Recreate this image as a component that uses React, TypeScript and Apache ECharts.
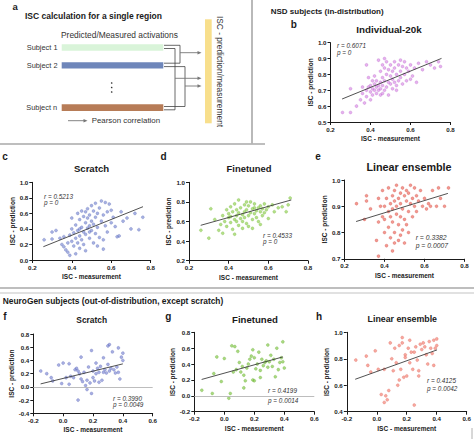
import React, { useEffect, useRef } from "react";
import * as echarts from "echarts";

const FONT = "'Liberation Sans', Arial, Helvetica, sans-serif";

// ---------- data ----------
const individual20kPoints: number[][] = [
  [0.26,0.56],[0.30,0.56],[0.30,0.71],[0.33,0.60],[0.35,0.64],[0.36,0.68],[0.37,0.62],[0.36,0.72],[0.38,0.66],[0.38,0.70],
  [0.38,0.86],[0.39,0.72],[0.39,0.78],[0.40,0.64],[0.40,0.69],[0.40,0.73],[0.41,0.71],[0.41,0.67],[0.41,0.76],[0.42,0.74],
  [0.42,0.70],[0.42,0.79],[0.43,0.72],[0.43,0.68],[0.43,0.76],[0.44,0.73],[0.44,0.70],[0.44,0.89],[0.45,0.67],[0.45,0.71],
  [0.45,0.75],[0.45,0.82],[0.46,0.73],[0.46,0.68],[0.46,0.78],[0.46,0.86],[0.47,0.70],[0.47,0.76],[0.47,0.84],[0.47,0.90],
  [0.48,0.72],[0.48,0.80],[0.48,0.88],[0.49,0.67],[0.49,0.75],[0.49,0.83],[0.50,0.74],[0.50,0.79],[0.50,0.86],[0.51,0.71],
  [0.51,0.82],[0.51,0.77],[0.52,0.75],[0.52,0.84],[0.52,0.88],[0.53,0.70],[0.53,0.73],[0.53,0.80],[0.54,0.76],[0.54,0.86],
  [0.55,0.82],[0.55,0.78],[0.55,0.89],[0.56,0.74],[0.56,0.85],[0.57,0.80],[0.57,0.88],[0.58,0.76],[0.58,0.84],[0.59,0.82],
  [0.60,0.86],[0.60,0.77],[0.61,0.79],[0.62,0.84],[0.63,0.75],[0.64,0.87],[0.66,0.83],[0.68,0.88],[0.70,0.86],[0.72,0.84],
  [0.74,0.88],[0.75,0.85]
];

const nsdScratchPoints: number[][] = [
  [0.26,0.26],[0.30,0.27],[0.30,0.36],[0.32,0.38],[0.34,0.28],[0.35,0.20],[0.36,0.17],[0.36,0.30],[0.37,0.13],[0.38,0.22],
  [0.38,0.10],[0.39,0.06],[0.39,0.32],[0.40,0.54],[0.40,0.24],[0.40,0.40],[0.41,0.18],[0.41,0.35],[0.42,0.08],[0.42,0.28],
  [0.42,0.45],[0.43,0.22],[0.43,0.38],[0.43,0.60],[0.44,0.31],[0.44,0.15],[0.44,0.52],[0.44,0.40],[0.45,0.63],[0.45,0.42],
  [0.45,0.26],[0.46,0.36],[0.46,0.56],[0.46,0.20],[0.47,0.48],[0.47,0.62],[0.47,0.33],[0.47,0.12],[0.48,0.41],[0.48,0.54],
  [0.48,0.66],[0.49,0.28],[0.49,0.44],[0.49,0.58],[0.49,0.36],[0.50,0.70],[0.50,0.38],[0.50,0.50],[0.51,0.63],[0.51,0.22],
  [0.51,0.46],[0.52,0.73],[0.52,0.55],[0.52,0.34],[0.53,0.60],[0.53,0.42],[0.53,0.18],[0.54,0.67],[0.54,0.29],[0.55,0.50],
  [0.55,0.76],[0.56,0.26],[0.56,0.58],[0.56,0.14],[0.57,0.44],[0.57,0.74],[0.58,0.62],[0.58,0.36],[0.59,0.72],[0.60,0.48],
  [0.60,0.64],[0.61,0.55],[0.62,0.43],[0.63,0.30],[0.64,0.31],[0.65,0.62],[0.66,0.50],[0.68,0.54],[0.70,0.40],[0.72,0.60],
  [0.74,0.39],[0.76,0.55]
];

const nsdFinetunedPoints: number[][] = [
  [0.26,0.51],[0.30,0.43],[0.31,0.73],[0.33,0.62],[0.35,0.51],[0.36,0.57],[0.37,0.48],[0.37,0.66],[0.38,0.60],[0.39,0.72],
  [0.39,0.55],[0.40,0.64],[0.40,0.68],[0.41,0.59],[0.41,0.75],[0.41,0.65],[0.42,0.52],[0.42,0.70],[0.43,0.62],[0.43,0.78],
  [0.43,0.47],[0.44,0.66],[0.44,0.72],[0.44,0.60],[0.45,0.56],[0.45,0.69],[0.45,0.82],[0.46,0.63],[0.46,0.74],[0.47,0.60],
  [0.47,0.67],[0.47,0.53],[0.48,0.70],[0.48,0.64],[0.48,0.77],[0.49,0.58],[0.49,0.72],[0.49,0.80],[0.50,0.66],[0.50,0.76],
  [0.50,0.55],[0.51,0.69],[0.51,0.80],[0.52,0.62],[0.52,0.73],[0.52,0.53],[0.53,0.68],[0.53,0.78],[0.53,0.74],[0.54,0.71],
  [0.54,0.64],[0.55,0.74],[0.55,0.60],[0.56,0.76],[0.56,0.70],[0.56,0.57],[0.57,0.73],[0.57,0.66],[0.58,0.78],[0.58,0.69],
  [0.59,0.72],[0.60,0.75],[0.60,0.63],[0.62,0.77],[0.63,0.70],[0.65,0.74],[0.67,0.75],[0.69,0.70],[0.70,0.77],[0.71,0.84]
];

const nsdEnsemblePoints: number[][] = [
  [0.26,0.91],[0.30,0.85],[0.31,0.94],[0.31,0.92],[0.33,0.89],[0.36,0.77],[0.37,0.93],[0.37,0.71],[0.37,0.84],[0.38,0.90],
  [0.39,0.86],[0.39,0.96],[0.40,0.90],[0.40,0.80],[0.40,0.85],[0.41,0.75],[0.41,0.93],[0.42,0.88],[0.42,0.97],[0.42,0.82],
  [0.43,0.91],[0.43,0.86],[0.43,0.78],[0.44,0.94],[0.44,0.89],[0.44,0.84],[0.44,0.73],[0.45,0.96],[0.45,0.92],[0.45,0.80],
  [0.45,0.76],[0.46,0.90],[0.46,0.87],[0.46,0.98],[0.47,0.93],[0.47,0.83],[0.47,0.77],[0.48,0.95],[0.48,0.91],[0.48,0.86],
  [0.48,0.79],[0.49,0.97],[0.49,0.89],[0.49,0.81],[0.50,0.94],[0.50,0.85],[0.50,0.76],[0.51,0.92],[0.51,0.96],[0.51,0.83],
  [0.52,0.88],[0.52,0.95],[0.52,0.80],[0.53,0.91],[0.53,0.98],[0.54,0.86],[0.54,0.93],[0.55,0.97],[0.55,0.90],[0.56,0.94],
  [0.56,0.88],[0.57,0.92],[0.58,0.96],[0.59,0.90],[0.60,0.93],[0.61,0.89],[0.62,0.91],[0.63,0.90],[0.64,0.96],[0.66,0.90],
  [0.67,0.97],[0.68,0.93],[0.70,0.90],[0.72,0.97]
];

const ngScratchPoints: number[][] = [
  [-0.15,0.24],[-0.11,0.20],[-0.08,0.14],[-0.07,0.09],[-0.03,0.33],[-0.01,0.05],[0.00,0.36],[0.02,0.14],[0.04,0.35],[0.04,0.04],
  [0.05,0.16],[0.07,0.14],[0.08,0.26],[0.09,0.28],[0.10,-0.20],[0.10,0.24],[0.11,0.20],[0.12,0.45],[0.12,0.12],[0.13,0.08],
  [0.14,0.22],[0.15,0.02],[0.16,-0.04],[0.16,0.10],[0.17,0.30],[0.18,0.06],[0.19,-0.10],[0.19,0.55],[0.20,0.14],[0.20,0.24],
  [0.21,0.09],[0.22,0.36],[0.22,0.20],[0.23,0.28],[0.24,0.07],[0.24,0.22],[0.25,0.31],[0.26,0.10],[0.27,0.44],[0.27,0.22],
  [0.28,0.26],[0.29,0.21],[0.30,0.62],[0.30,0.34],[0.31,0.64],[0.31,0.24],[0.32,0.28],[0.33,0.53],[0.34,0.26],[0.35,0.21],
  [0.36,0.30],[0.37,0.59],[0.37,0.22],[0.38,0.12],[0.39,0.45],[0.40,0.51],[0.40,0.40]
];

const ngFinetunedPoints: number[][] = [
  [-0.15,0.07],[-0.08,0.03],[-0.07,0.28],[-0.05,0.49],[-0.02,0.18],[0.00,0.47],[0.03,-0.03],[0.04,0.03],[0.05,0.63],[0.06,0.30],
  [0.07,0.62],[0.08,0.33],[0.09,0.56],[0.10,0.42],[0.11,0.30],[0.12,0.37],[0.13,0.26],[0.13,0.10],[0.14,0.19],[0.15,0.35],
  [0.16,0.40],[0.17,0.46],[0.18,0.50],[0.19,0.58],[0.19,0.20],[0.20,0.19],[0.20,0.48],[0.21,0.34],[0.22,0.40],[0.23,0.55],
  [0.24,0.32],[0.24,0.23],[0.25,0.46],[0.26,0.38],[0.27,0.42],[0.28,0.44],[0.29,0.64],[0.29,0.36],[0.30,0.43],[0.31,0.51],
  [0.32,0.37],[0.33,0.46],[0.34,0.24],[0.35,0.60],[0.36,0.33],[0.37,0.42],[0.38,0.48],[0.39,0.68],[0.39,0.43],[0.40,0.35]
];

const ngEnsemblePoints: number[][] = [
  [-0.14,0.79],[-0.07,0.82],[-0.06,0.75],[-0.04,0.70],[-0.01,0.86],[0.01,0.72],[0.03,0.53],[0.05,0.72],[0.06,0.52],[0.05,0.47],
  [0.07,0.49],[0.08,0.56],[0.09,0.92],[0.10,0.80],[0.11,0.71],[0.12,0.88],[0.13,0.77],[0.14,0.60],[0.15,0.90],[0.15,0.64],
  [0.16,0.72],[0.17,0.96],[0.17,0.92],[0.18,0.66],[0.19,0.83],[0.19,0.81],[0.20,0.67],[0.21,0.88],[0.22,0.94],[0.22,0.77],
  [0.23,0.85],[0.24,0.72],[0.25,0.45],[0.25,0.85],[0.26,0.89],[0.27,0.79],[0.28,0.71],[0.28,0.67],[0.29,0.91],[0.30,0.87],
  [0.31,0.92],[0.32,0.89],[0.33,0.83],[0.34,0.76],[0.35,0.93],[0.36,0.88],[0.37,0.84],[0.38,0.94],[0.38,0.75],[0.39,0.88],
  [0.40,0.95],[0.40,0.90]
];

// regression lines: [[x0, y0], [x1, y1]]
const fitIndividual20k = [[0.258, 0.645], [0.755, 0.901]];
const fitNsdScratch = [[0.256, 0.171], [0.761, 0.686]];
const fitNsdFinetuned = [[0.259, 0.561], [0.716, 0.820]];
const fitNsdEnsemble = [[0.258, 0.842], [0.717, 0.949]];
const fitNgScratch = [[-0.151, 0.045], [0.400, 0.348]];
const fitNgFinetuned = [[-0.151, 0.206], [0.390, 0.490]];
const fitNgEnsemble = [[-0.144, 0.645], [0.402, 0.867]];

const panelTitles = ["Individual-20k", "Scratch", "Finetuned", "Linear ensemble", "Scratch", "Finetuned", "Linear ensemble"];
const panelLetters = ["b", "c", "d", "e", "f", "g", "h"];
const rTexts = ["r = 0.6071", "r = 0.5213", "r = 0.4533", "r = 0.3382", "r = 0.3990", "r = 0.4199", "r = 0.4125"];
const pTexts = ["p = 0", "p = 0", "p = 0", "p = 0.0007", "p = 0.0049", "p = 0.0014", "p = 0.0042"];
const xMins = [0.2, 0.2, 0.2, 0.2, -0.2, -0.2, -0.2];
const xMaxs = [0.8, 0.8, 0.8, 0.8, 0.6, 0.6, 0.6];
const yMins = [0.5, 0.0, 0.2, 0.7, -0.4, -0.2, 0.4];
const yMaxs = [1.0, 1.0, 1.0, 1.0, 0.8, 0.8, 1.0];
const yIntervals = [0.1, 0.2, 0.2, 0.1, 0.2, 0.2, 0.2];
const zeroLinePanels = [false, false, false, false, true, true, false];

const sectionTitles = ["NSD subjects (in-distribution)", "NeuroGen subjects (out-of-distribution, except scratch)"];
const schematicTitle = "ISC calculation for a single region";
const schematicSubjects = ["Subject 1", "Subject 2", "Subject n"];

const allPoints = [individual20kPoints, nsdScratchPoints, nsdFinetunedPoints, nsdEnsemblePoints, ngScratchPoints, ngFinetunedPoints, ngEnsemblePoints];
const allFits = [fitIndividual20k, fitNsdScratch, fitNsdFinetuned, fitNsdEnsemble, fitNgScratch, fitNgFinetuned, fitNgEnsemble];

// ---------- layout / style ----------
const grids = [
  { left: 330.5, top: 42.7, width: 120, height: 79.3 },
  { left: 32.3, top: 182.3, width: 118.4, height: 77.7 },
  { left: 189, top: 182.3, width: 119, height: 78.4 },
  { left: 344.5, top: 180, width: 120, height: 78.8 },
  { left: 33.3, top: 334, width: 119.4, height: 79.3 },
  { left: 194.3, top: 332.3, width: 120, height: 79.4 },
  { left: 346.8, top: 332.3, width: 120, height: 79.4 },
];
const colors = [
  { fill: "rgba(214,128,226,0.75)", stroke: "rgba(170,80,190,0.8)" },
  { fill: "rgba(110,126,206,0.75)", stroke: "rgba(70,86,170,0.8)" },
  { fill: "rgba(140,206,70,0.8)", stroke: "rgba(100,170,40,0.8)" },
  { fill: "rgba(234,86,74,0.75)", stroke: "rgba(200,50,45,0.8)" },
  { fill: "rgba(110,122,206,0.75)", stroke: "rgba(70,82,170,0.8)" },
  { fill: "rgba(122,196,58,0.8)", stroke: "rgba(85,160,30,0.8)" },
  { fill: "rgba(242,112,96,0.75)", stroke: "rgba(215,75,65,0.8)" },
];
const titlePos = [
  { x: 389, y: 29, size: 9.8 },
  { x: 91.5, y: 168.3, size: 9.6 },
  { x: 249, y: 168.3, size: 9.4 },
  { x: 409, y: 167.3, size: 10.8 },
  { x: 91.7, y: 320, size: 8.4 },
  { x: 255, y: 319, size: 9.6 },
  { x: 402.3, y: 319, size: 8.8 },
];
const letterPos = [
  { x: 293.7, y: 24 }, { x: 5, y: 156 }, { x: 163.5, y: 156 }, { x: 318, y: 156 },
  { x: 5, y: 316.7 }, { x: 168.3, y: 316.7 }, { x: 319, y: 316.7 },
];
const statPos = [
  { x: 337, yr: 45, yp: 52 },
  { x: 44, yr: 196, yp: 202.7 },
  { x: 263, yr: 235, yp: 241.7 },
  { x: 415.7, yr: 237.3, yp: 245.5 },
  { x: 113, yr: 398.3, yp: 404.5 },
  { x: 268, yr: 390.7, yp: 400.5 },
  { x: 427, yr: 380.3, yp: 388 },
];

const fmt = (v: number) => (Math.abs(v) < 1e-9 ? "0.0" : v.toFixed(1));

function txt(text: string, x: number, y: number, size: number, opts: any = {}) {
  return {
    type: "text",
    x,
    y,
    rotation: opts.rotation || 0,
    silent: true,
    style: {
      text,
      fill: opts.fill || "#1a1a1a",
      fontSize: size,
      fontWeight: opts.bold ? "bold" : "normal",
      fontStyle: opts.italic ? "italic" : "normal",
      fontFamily: FONT,
      align: opts.align || "left",
      verticalAlign: "middle",
    },
  };
}

function line(points: number[][], stroke: string, w: number) {
  return { type: "polyline", silent: true, shape: { points }, style: { stroke, lineWidth: w, fill: null } };
}

function arrowHead(x: number, y: number, fill: string) {
  return { type: "polygon", silent: true, shape: { points: [[x, y], [x - 4, y - 1.8], [x - 4, y + 1.8]] }, style: { fill } };
}

function buildOption() {
  const xAxes: any[] = [];
  const yAxes: any[] = [];
  const series: any[] = [];
  const axisLabelStyle = { fontSize: 6.2, fontWeight: "bold", color: "#1a1a1a", fontFamily: FONT };
  const nameStyle = { fontSize: 6.5, fontWeight: "bold", color: "#1a1a1a", fontFamily: FONT };
  for (let i = 0; i < 7; i++) {
    xAxes.push({
      type: "value", gridIndex: i, min: xMins[i], max: xMaxs[i], interval: 0.2,
      axisLine: { onZero: false, lineStyle: { color: "#1a1a1a", width: 1 } },
      axisTick: { show: true, length: 3, lineStyle: { color: "#1a1a1a", width: 1 } },
      axisLabel: { ...axisLabelStyle, margin: 4, formatter: fmt },
      splitLine: { show: false },
      name: "ISC - measurement", nameLocation: "middle", nameGap: 13, nameTextStyle: nameStyle,
    });
    yAxes.push({
      type: "value", gridIndex: i, min: yMins[i], max: yMaxs[i], interval: yIntervals[i],
      axisLine: { show: true, onZero: false, lineStyle: { color: "#1a1a1a", width: 1 } },
      axisTick: { show: true, length: 3, lineStyle: { color: "#1a1a1a", width: 1 } },
      axisLabel: { ...axisLabelStyle, margin: 4, formatter: fmt },
      splitLine: { show: false },
      name: "ISC - prediction", nameLocation: "middle", nameGap: 16, nameTextStyle: nameStyle,
    });
    series.push({
      type: "scatter", xAxisIndex: i, yAxisIndex: i, data: allPoints[i], symbolSize: 3,
      itemStyle: { color: colors[i].fill, borderColor: colors[i].stroke, borderWidth: 0.4 },
      silent: true, z: 3,
      markLine: zeroLinePanels[i]
        ? { silent: true, symbol: "none", label: { show: false }, lineStyle: { color: "#b5b5b5", width: 0.9, type: "solid" }, data: [{ yAxis: 0 }] }
        : undefined,
    });
    series.push({
      type: "line", xAxisIndex: i, yAxisIndex: i, data: allFits[i], symbol: "none", silent: true, z: 4,
      lineStyle: { color: "#3d3d3d", width: 0.9 },
    });
  }

  const graphic: any[] = [];
  // borders
  graphic.push(line([[252, 0], [252, 143.5]], "#a8a8a8", 1.6));
  graphic.push(line([[0, 144], [265, 144]], "#a8a8a8", 1.6));
  graphic.push(line([[0, 288], [474, 288]], "#a8a8a8", 1.4));
  graphic.push(line([[0, 293], [474, 293]], "#c4c4c4", 1.2));
  graphic.push(line([[472, 428], [472, 439]], "#b0b0b0", 1));

  // section headers
  graphic.push(txt(sectionTitles[0], 270.7, 11.7, 8, { bold: true }));
  graphic.push(txt(sectionTitles[1], 2.7, 301.3, 8.4, { bold: true }));

  // panel a schematic
  graphic.push(txt("a", 12.5, 6, 9.5, { bold: true }));
  graphic.push(txt(schematicTitle, 25, 15.7, 8.5, { bold: true }));
  graphic.push(txt("Predicted/Measured activations", 61, 35, 8.4, { fill: "#333" }));
  graphic.push(txt(schematicSubjects[0], 26.7, 47.3, 7.4, { fill: "#333" }));
  graphic.push(txt(schematicSubjects[1], 26.7, 65.7, 7.4, { fill: "#333" }));
  graphic.push(txt(schematicSubjects[2], 26.3, 107.3, 7.4, { fill: "#333" }));
  graphic.push({ type: "rect", silent: true, shape: { x: 61.7, y: 44.3, width: 101.6, height: 6.4 }, style: { fill: "#d9f4d9" } });
  graphic.push({ type: "rect", silent: true, shape: { x: 61.7, y: 62.3, width: 101.6, height: 6.2 }, style: { fill: "#6e86ba" } });
  graphic.push({ type: "rect", silent: true, shape: { x: 61.7, y: 104.3, width: 101.6, height: 6.6 }, style: { fill: "#b77c57" } });
  [83, 87.5, 92].forEach((cy) =>
    graphic.push({ type: "circle", silent: true, shape: { cx: 111.7, cy, r: 0.75 }, style: { fill: "#333" } })
  );
  const cc = "#444";
  graphic.push(line([[164, 45.3], [180, 45.3], [180, 63.2], [164, 63.2]], cc, 0.8));
  graphic.push(line([[164, 48.5], [175, 48.5], [175, 109.8], [164, 109.8]], cc, 0.8));
  graphic.push(line([[164, 66.6], [185, 66.6], [185, 106.5], [164, 106.5]], cc, 0.8));
  graphic.push(line([[180, 52.7], [198, 52.7]], "#777", 0.9));
  graphic.push(arrowHead(201.5, 52.7, "#777"));
  graphic.push(line([[175, 78.3], [198, 78.3]], "#777", 0.9));
  graphic.push(arrowHead(201.5, 78.3, "#777"));
  graphic.push(line([[185, 86], [198, 86]], "#777", 0.9));
  graphic.push(arrowHead(201.5, 86, "#777"));
  graphic.push(line([[68, 120.7], [84, 120.7]], "#777", 0.9));
  graphic.push(arrowHead(87.5, 120.7, "#777"));
  graphic.push(txt("Pearson correlation", 91.7, 120.7, 7.9, { fill: "#333" }));
  graphic.push({ type: "rect", silent: true, shape: { x: 205, y: 19.3, width: 6.7, height: 104 }, style: { fill: "#f8df8c" } });
  graphic.push(txt("ISC - prediction/measurement", 220, 71.5, 8.4, { fill: "#333", align: "center", rotation: -Math.PI / 2 }));

  // scatter panel titles, letters, stats
  for (let i = 0; i < 7; i++) {
    graphic.push(txt(panelTitles[i], titlePos[i].x, titlePos[i].y, titlePos[i].size, { bold: true, align: "center" }));
    graphic.push(txt(panelLetters[i], letterPos[i].x, letterPos[i].y, 10, { bold: true, align: "center" }));
    const statSize = i === 3 ? 6.8 : 6.4;
    graphic.push(txt(rTexts[i], statPos[i].x, statPos[i].yr, statSize, { italic: true, fill: "#333" }));
    graphic.push(txt(pTexts[i], statPos[i].x, statPos[i].yp, statSize, { italic: true, fill: "#333" }));
  }

  return {
    animation: false,
    backgroundColor: "#ffffff",
    grid: grids.map((g) => ({ ...g, containLabel: false })),
    xAxis: xAxes,
    yAxis: yAxes,
    series,
    graphic: { elements: graphic },
  };
}

export default function App() {
  const ref = useRef<HTMLDivElement>(null);
  useEffect(() => {
    document.body.style.margin = "0";
    if (!ref.current) return;
    const chart = echarts.init(ref.current, null, { renderer: "svg" });
    chart.setOption(buildOption() as any);
    return () => chart.dispose();
  }, []);
  return <div ref={ref} style={{ position: "absolute", left: 0, top: 0, width: 474, height: 439 }} />;
}
